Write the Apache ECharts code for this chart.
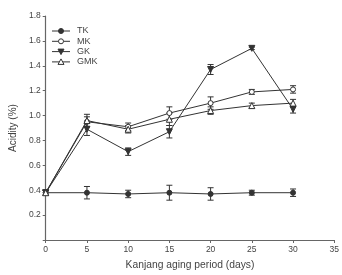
<!DOCTYPE html>
<html><head><meta charset="utf-8">
<script src="https://cdn.jsdelivr.net/npm/echarts@6/dist/echarts.min.js"></script>
<style>html,body{margin:0;padding:0;background:#fff}#c{width:342px;height:275px}</style>
</head><body><div id="c"></div>
<script>
const days = [0, 5, 10, 15, 20, 25, 30];
const TK = [0.38, 0.38, 0.37, 0.38, 0.37, 0.38, 0.38];
const TKerr = [0.02, 0.05, 0.03, 0.06, 0.05, 0.02, 0.03];
const MK = [0.38, 0.95, 0.91, 1.02, 1.10, 1.19, 1.21];
const MKerr = [0.02, 0.04, 0.03, 0.05, 0.05, 0.02, 0.03];
const GK = [0.38, 0.89, 0.71, 0.87, 1.37, 1.54, 1.05];
const GKerr = [0.02, 0.05, 0.03, 0.05, 0.04, 0.01, 0.03];
const GMK = [0.38, 0.96, 0.89, 0.97, 1.04, 1.08, 1.10];
const GMKerr = [0.02, 0.05, 0.03, 0.05, 0.03, 0.02, 0.03];
const names = ['TK', 'MK', 'GK', 'GMK'];
const yTicks = ['', '0.2', '0.4', '0.6', '0.8', '1.0', '1.2', '1.4', '1.6', '1.8'];

const ink = '#333';
const downTri = 'path://M0,0 L10,0 L5,9 Z';
const symbols = ['circle', 'circle', downTri, 'triangle'];
const filled = [true, false, true, false];
const sizes = [5, 5, 6, 6];
const chart = echarts.init(document.getElementById('c'));
function lineSeries(k, vals) {
  return {
    name: names[k], type: 'line', data: days.map((d, i) => [d, vals[i]]),
    symbol: symbols[k], symbolSize: sizes[k],
    lineStyle: {color: ink, width: 1},
    itemStyle: {color: filled[k] ? ink : '#fff', borderColor: ink, borderWidth: 1},
    z: 3
  };
}
function errSeries(vals, errs) {
  return {
    type: 'custom',
    data: days.map((d, i) => [d, vals[i] - errs[i], vals[i] + errs[i]]),
    renderItem: function (params, api) {
      const lo = api.coord([api.value(0), api.value(1)]);
      const hi = api.coord([api.value(0), api.value(2)]);
      const w = 3;
      const st = {stroke: ink, lineWidth: 1};
      return {type: 'group', children: [
        {type: 'line', shape: {x1: lo[0], y1: lo[1], x2: hi[0], y2: hi[1]}, style: st},
        {type: 'line', shape: {x1: lo[0] - w, y1: lo[1], x2: lo[0] + w, y2: lo[1]}, style: st},
        {type: 'line', shape: {x1: hi[0] - w, y1: hi[1], x2: hi[0] + w, y2: hi[1]}, style: st}
      ]};
    },
    z: 2, silent: true
  };
}
const font = 'Liberation Sans, Arial, sans-serif';
const txt = {fontFamily: font, color: '#444'};

// legend drawn as graphic
const legendEls = [];
names.forEach((n, k) => {
  const y = 31 + k * 10.3;
  legendEls.push({type: 'line', shape: {x1: 52, y1: y, x2: 70, y2: y}, style: {stroke: ink, lineWidth: 1}});
  const s = sizes[k];
  let sym;
  if (k === 0 || k === 1) {
    sym = {type: 'circle', shape: {cx: 61, cy: y, r: s / 2}};
  } else if (k === 2) {
    sym = {type: 'polygon', shape: {points: [[61 - 3, y - 2.5], [61 + 3, y - 2.5], [61, y + 3]]}};
  } else {
    sym = {type: 'polygon', shape: {points: [[61 - 3, y + 2.5], [61 + 3, y + 2.5], [61, y - 3]]}};
  }
  sym.style = {fill: filled[k] ? ink : '#fff', stroke: ink, lineWidth: 1};
  legendEls.push(sym);
  legendEls.push({type: 'text', x: 77, y: y, style: {text: n, fontSize: 9, fontFamily: font, fill: '#444', verticalAlign: 'middle'}});
});

chart.setOption({
  animation: false,
  grid: {left: 35, right: 4, top: 16, bottom: 31},
  graphic: legendEls,
  xAxis: {
    type: 'value', min: 0, max: 35, interval: 5,
    name: 'Kanjang aging period (days)', nameLocation: 'middle', nameGap: 20,
    nameTextStyle: Object.assign({fontSize: 10.3}, txt),
    axisLine: {lineStyle: {color: '#666', width: 1.2}},
    axisTick: {lineStyle: {color: '#666'}, length: 3},
    axisLabel: Object.assign({fontSize: 8.5, margin: 5}, txt),
    splitLine: {show: false}
  },
  yAxis: {
    type: 'value', min: 0, max: 1.8, interval: 0.2,
    name: 'Acidity (%)', nameLocation: 'middle', nameGap: 27,
    nameTextStyle: Object.assign({fontSize: 10}, txt),
    axisLine: {show: true, lineStyle: {color: '#666', width: 1.2}},
    axisTick: {show: true, lineStyle: {color: '#666'}, length: 3},
    axisLabel: Object.assign({fontSize: 8.5, margin: 5, formatter: function (v) { return yTicks[Math.round(v / 0.2)]; }}, txt),
    splitLine: {show: false}
  },
  series: [
    lineSeries(0, TK), lineSeries(1, MK), lineSeries(2, GK), lineSeries(3, GMK),
    errSeries(TK, TKerr), errSeries(MK, MKerr), errSeries(GK, GKerr), errSeries(GMK, GMKerr)
  ]
});
</script></body></html>
